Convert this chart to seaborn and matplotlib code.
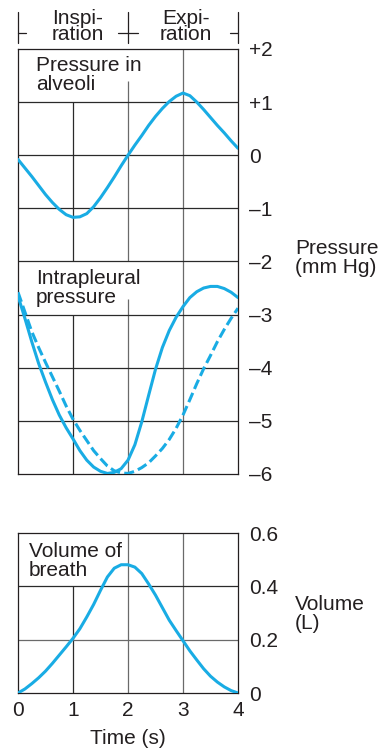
import matplotlib
matplotlib.use("Agg")
import matplotlib.pyplot as plt
import pandas as pd
import seaborn as sns


# values, every 0.125 s
TIME = [0.0, 0.125, 0.25, 0.375, 0.5, 0.625, 0.75, 0.875,
        1.0, 1.125, 1.25, 1.375, 1.5, 1.625, 1.75, 1.875,
        2.0, 2.125, 2.25, 2.375, 2.5, 2.625, 2.75, 2.875,
        3.0, 3.125, 3.25, 3.375, 3.5, 3.625, 3.75, 3.875, 4.0]
ALVEOLAR = [-0.08, -0.24, -0.40, -0.57, -0.74, -0.89, -1.02, -1.12,
            -1.17, -1.16, -1.10, -0.97, -0.80, -0.61, -0.41, -0.20,
            0.0, 0.19, 0.37, 0.56, 0.73, 0.88, 1.01, 1.11,
            1.17, 1.12, 1.00, 0.86, 0.71, 0.56, 0.42, 0.27, 0.13]
INTRAPLEURAL = [-2.65, -3.07, -3.51, -3.92, -4.27, -4.60, -4.89, -5.13,
                -5.34, -5.56, -5.74, -5.87, -5.95, -5.99, -5.97, -5.90,
                -5.74, -5.45, -5.02, -4.52, -4.03, -3.62, -3.30, -3.05,
                -2.85, -2.68, -2.57, -2.50, -2.47, -2.47, -2.51, -2.58, -2.68]
INTRAPLEURAL_DASHED = [-2.58, -2.95, -3.32, -3.62, -3.90, -4.17, -4.44, -4.72,
                       -4.97, -5.18, -5.37, -5.56, -5.71, -5.85, -5.94, -5.98,
                       -5.99, -5.95, -5.88, -5.79, -5.66, -5.52, -5.35, -5.14,
                       -4.89, -4.60, -4.30, -4.02, -3.77, -3.51, -3.28, -3.07, -2.88]
VOLUME = [0.0, 0.015, 0.035, 0.057, 0.082, 0.111, 0.142, 0.173,
          0.205, 0.241, 0.285, 0.332, 0.385, 0.435, 0.468, 0.481,
          0.481, 0.472, 0.448, 0.409, 0.367, 0.32, 0.273, 0.234,
          0.196, 0.158, 0.124, 0.091, 0.063, 0.041, 0.023, 0.009, 0.0]

PRESSURE_TICKS = [2, 1, 0, -1, -2, -3, -4, -5, -6]
PRESSURE_LABELS = ["+2", "+1", "0", "–1", "–2", "–3", "–4", "–5", "–6"]
VOLUME_TICKS = [0, 0.2, 0.4, 0.6]
VOLUME_LABELS = ["0", "0.2", "0.4", "0.6"]
TIME_TICKS = [0, 1, 2, 3, 4]

CURVE = "#19ACE4"
INK = "#231F20"
GRID_DARK = "#2a2a2a"
GRID_GREY = "#6a6a6a"
FONT = 15


def style_box(ax):
    for spine in ax.spines.values():
        spine.set_visible(True)
        spine.set_color(INK)
        spine.set_linewidth(0.9)


def main() -> None:
    sns.set_theme(style="white")
    plt.rcParams["font.family"] = ["Liberation Sans", "DejaVu Sans"]
    plt.rcParams["text.color"] = INK

    df = pd.DataFrame({
        "time": TIME,
        "alveolar": ALVEOLAR,
        "intrapleural": INTRAPLEURAL,
        "intrapleural_dashed": INTRAPLEURAL_DASHED,
        "volume": VOLUME,
    })

    fig = plt.figure(figsize=(3.84, 7.54), dpi=100)
    ax_p = fig.add_axes([0.0469, 0.3714, 0.5729, 0.5637])
    ax_v = fig.add_axes([0.0469, 0.0809, 0.5729, 0.2122])

    # pressure panel grid (partly cut short under the titles)
    for x, y0, y1, c in [(1, -2, 1, GRID_DARK), (1, -6, -3, GRID_DARK),
                         (2, -2, 1.4, GRID_GREY), (2, -6, -2.7, GRID_GREY),
                         (3, -6, 2, GRID_GREY)]:
        ax_p.vlines(x, y0, y1, color=c, linewidth=0.9, zorder=1)
    for y in [1, 0, -1, -2, -3, -4, -5]:
        ax_p.hlines(y, 0, 4, color=GRID_DARK, linewidth=0.9, zorder=1)

    sns.lineplot(data=df, x="time", y="alveolar", ax=ax_p, color=CURVE, linewidth=2.2, zorder=3)
    sns.lineplot(data=df, x="time", y="intrapleural", ax=ax_p, color=CURVE, linewidth=2.2, zorder=3)
    sns.lineplot(data=df, x="time", y="intrapleural_dashed", ax=ax_p, color=CURVE,
                 linewidth=2.2, linestyle="--", zorder=3)
    ax_p.lines[-1].set_dashes((3.3, 1.4))

    ax_p.set_xlim(0, 4)
    ax_p.set_ylim(-6, 2)
    ax_p.set_xticks([])
    ax_p.set_yticks(PRESSURE_TICKS)
    ax_p.set_yticklabels(PRESSURE_LABELS)
    ax_p.yaxis.tick_right()
    ax_p.tick_params(axis="y", length=0, pad=8, labelsize=FONT, labelcolor=INK)
    ax_p.set_xlabel("")
    ax_p.set_ylabel("")
    style_box(ax_p)

    ax_p.text(0.33, 1.87, "Pressure in\nalveoli", fontsize=FONT, va="top", ha="left",
              linespacing=1.0)
    ax_p.text(0.33, -2.15, "Intrapleural\npressure", fontsize=FONT, va="top", ha="left",
              linespacing=1.0)

    # inspiration / expiration markers above the box
    for x, arms in [(0, [(0, 0.15)]), (2, [(-0.18, 0.18)]), (4, [(-0.15, 0)])]:
        ax_p.plot([x, x], [2.11, 2.7], color=INK, linewidth=0.9, clip_on=False)
        for a0, a1 in arms:
            ax_p.plot([x + a0, x + a1], [2.3, 2.3], color=INK, linewidth=0.9, clip_on=False)
    ax_p.text(1.08, 2.42, "Inspi-\nration", fontsize=FONT, ha="center", va="center",
              linespacing=0.85)
    ax_p.text(3.05, 2.42, "Expi-\nration", fontsize=FONT, ha="center", va="center",
              linespacing=0.85)

    # volume panel
    for x, y0, y1, c in [(1, 0, 0.4, GRID_DARK), (2, 0, 0.6, GRID_GREY), (3, 0, 0.6, GRID_GREY)]:
        ax_v.vlines(x, y0, y1, color=c, linewidth=0.9, zorder=1)
    ax_v.hlines(0.4, 0, 4, color=GRID_DARK, linewidth=0.9, zorder=1)
    ax_v.hlines(0.2, 0, 4, color=GRID_GREY, linewidth=0.9, zorder=1)

    sns.lineplot(data=df, x="time", y="volume", ax=ax_v, color=CURVE, linewidth=2.2, zorder=3)
    ax_v.set_xlim(0, 4)
    ax_v.set_ylim(0, 0.6)
    ax_v.set_xticks(TIME_TICKS)
    ax_v.set_xticklabels([str(t) for t in TIME_TICKS])
    ax_v.set_yticks(VOLUME_TICKS)
    ax_v.set_yticklabels(VOLUME_LABELS)
    ax_v.yaxis.tick_right()
    ax_v.tick_params(axis="y", length=0, pad=8, labelsize=FONT, labelcolor=INK)
    ax_v.tick_params(axis="x", length=0, pad=6, labelsize=FONT, labelcolor=INK)
    ax_v.set_xlabel("Time (s)", fontsize=FONT, color=INK, labelpad=6)
    ax_v.set_ylabel("")
    style_box(ax_v)
    ax_v.text(0.2, 0.567, "Volume of\nbreath", fontsize=FONT, va="top", ha="left",
              linespacing=1.0)

    fig.text(0.768, 0.658, "Pressure\n(mm Hg)", fontsize=FONT, ha="left", va="center",
             linespacing=1.0)
    fig.text(0.768, 0.186, "Volume\n(L)", fontsize=FONT, ha="left", va="center",
             linespacing=1.0)

    fig.savefig("out.png", dpi=100, facecolor="white")
    plt.close(fig)


if __name__ == "__main__":
    main()
